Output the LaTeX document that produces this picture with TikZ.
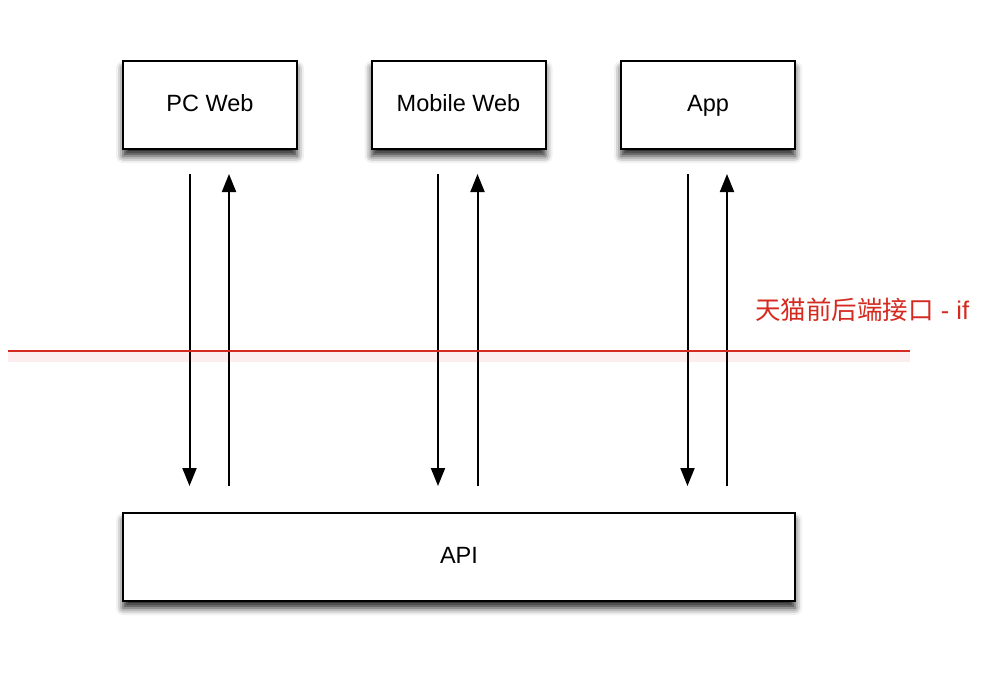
\documentclass[tikz,border=0pt]{standalone}
\usepackage{fontspec}
\setmainfont{Liberation Sans}
\newfontfamily\cjk{Noto Sans CJK SC}
\usetikzlibrary{arrows.meta,shadows.blur}
\definecolor{ifred}{HTML}{D42A20}
\begin{document}
\begin{tikzpicture}[x=1pt,y=-1pt,
  box/.style={draw=black,line width=2pt,fill=white,minimum width=174pt,minimum height=88pt,inner sep=0pt,
    font=\fontsize{23.5}{28}\selectfont,text height=17pt,text depth=5pt,
    blur shadow={shadow xshift=0pt,shadow yshift=-7pt,shadow blur radius=7pt,shadow opacity=85}},
  flow/.style={line width=2pt,-{Triangle[length=18pt,width=14pt]}},
]
\useasboundingbox (0,0) rectangle (992,672);
\node[box] (pc) at (210,105) {PC Web};
\node[box] (mw) at (458.5,105) {Mobile Web};
\node[box] (app) at (708,105) {App};
\node[box,minimum width=672pt] (api) at (459,557) {API};
\foreach \n in {pc,mw,app}{
  \draw[flow,shorten <=24pt,shorten >=26pt] ([xshift=-20.5pt]\n.south) -- ([xshift=-20.5pt]\n.south |- api.north);
  \draw[flow,shorten <=26pt,shorten >=24pt] ([xshift=19pt]\n.south |- api.north) -- ([xshift=19pt]\n.south);
}
\coordinate (l1) at (8,351);
\coordinate (l2) at (910,351);
\fill[ifred,opacity=0.08] (8,352) rectangle (910,362);
\draw[ifred,line width=1.6pt] (l1) -- (l2);
\node[ifred,anchor=west,inner sep=0pt,font=\fontsize{25.5}{30}\selectfont] (lbl) at (755,310) {{\cjk 天猫前后端接口} - if};
\end{tikzpicture}
\end{document}
